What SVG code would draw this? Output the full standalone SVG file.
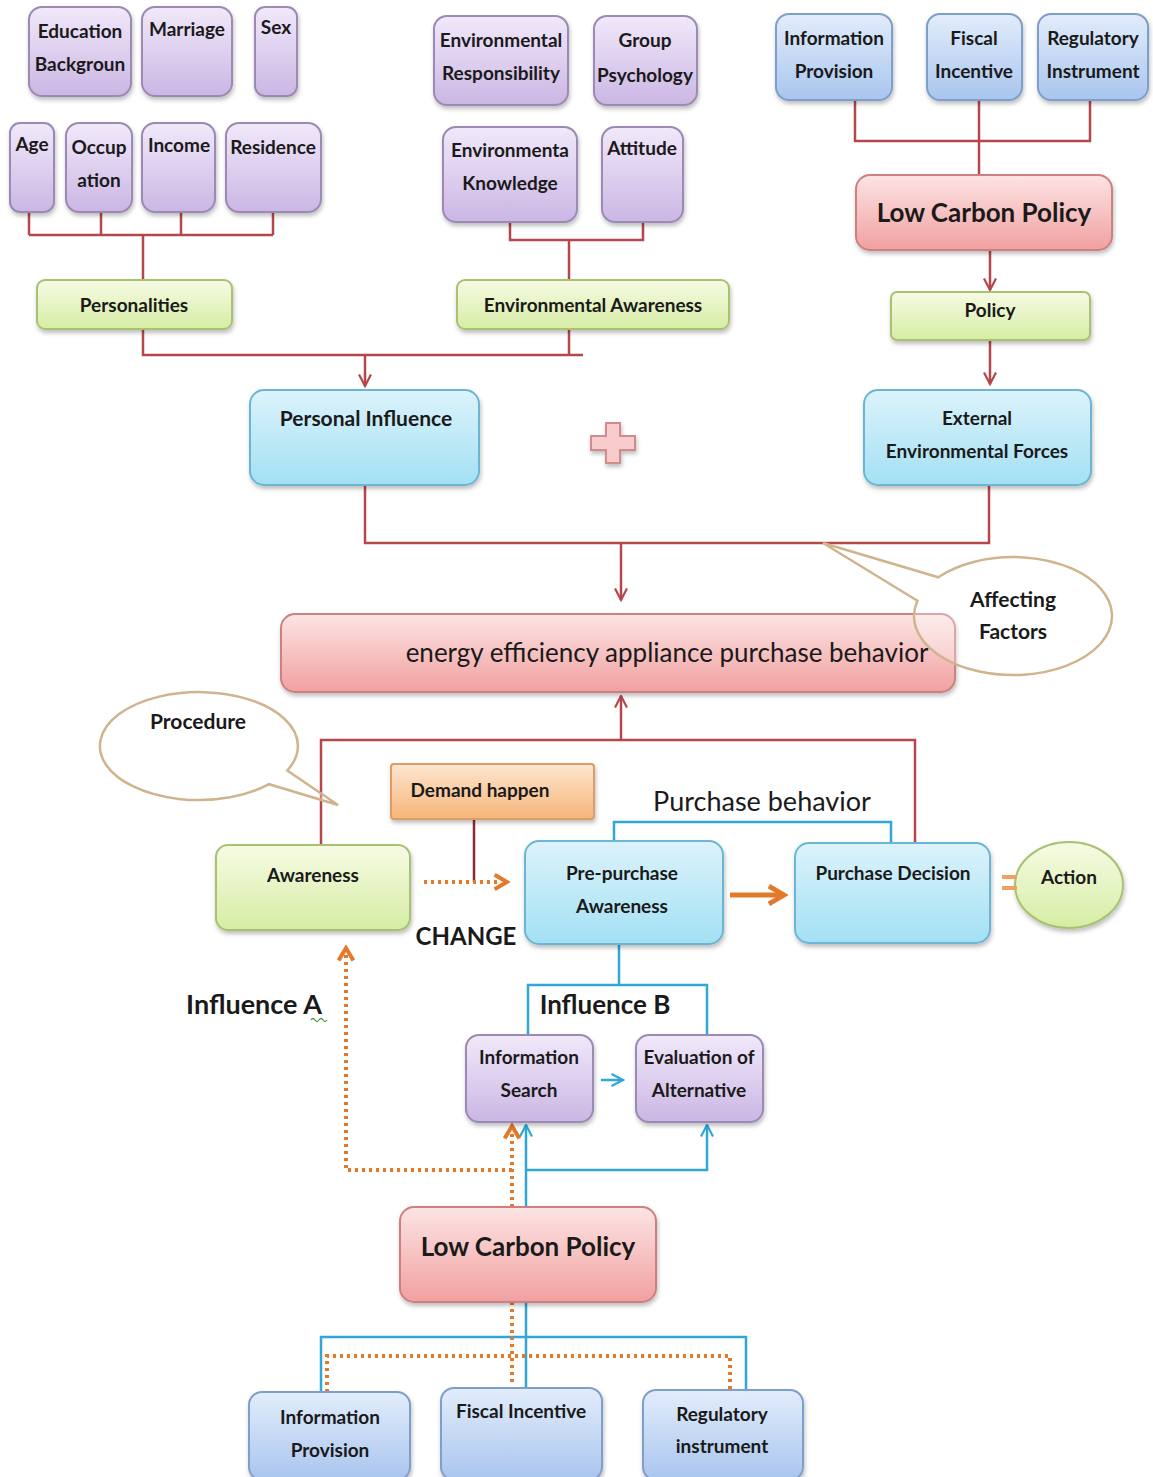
<svg xmlns="http://www.w3.org/2000/svg" width="1153" height="1477" viewBox="0 0 1153 1477">
<defs>
<linearGradient id="gPurple" x1="0" y1="0" x2="0" y2="1"><stop offset="0" stop-color="#f1e9fa"/><stop offset="1" stop-color="#cbb6e4"/></linearGradient>
<linearGradient id="gBlue" x1="0" y1="0" x2="0" y2="1"><stop offset="0" stop-color="#e2edfb"/><stop offset="1" stop-color="#a9c5ee"/></linearGradient>
<linearGradient id="gCyan" x1="0" y1="0" x2="0" y2="1"><stop offset="0" stop-color="#dcf3fb"/><stop offset="1" stop-color="#a3e0f4"/></linearGradient>
<linearGradient id="gGreen" x1="0" y1="0" x2="0" y2="1"><stop offset="0" stop-color="#f6fbe4"/><stop offset="1" stop-color="#d6eda4"/></linearGradient>
<linearGradient id="gPink" x1="0" y1="0" x2="0" y2="1"><stop offset="0" stop-color="#fde4e4"/><stop offset="1" stop-color="#f1a0a0"/></linearGradient>
<linearGradient id="gOrange" x1="0" y1="0" x2="0" y2="1"><stop offset="0" stop-color="#fde6cf"/><stop offset="1" stop-color="#f7b57a"/></linearGradient>
<filter id="sh" x="-10%" y="-10%" width="130%" height="140%"><feDropShadow dx="1" dy="3" stdDeviation="2" flood-color="#000" flood-opacity="0.25"/></filter>
<marker id="aRed" viewBox="0 0 14 14" refX="12.5" refY="7" markerWidth="14" markerHeight="14" markerUnits="userSpaceOnUse" orient="auto"><path d="M1,1 L12.5,7 L1,13" fill="none" stroke="#b5474b" stroke-width="2.2"/></marker>
<marker id="aBlue" viewBox="0 0 14 14" refX="12.5" refY="7" markerWidth="14" markerHeight="14" markerUnits="userSpaceOnUse" orient="auto"><path d="M1,1 L12.5,7 L1,13" fill="none" stroke="#2fa8d8" stroke-width="2.2"/></marker>
<marker id="aOrange" viewBox="0 0 16 16" refX="13" refY="8" markerWidth="18" markerHeight="18" markerUnits="userSpaceOnUse" orient="auto"><path d="M2,1.5 L13,8 L2,14.5" fill="none" stroke="#e27a2a" stroke-width="3.5"/></marker>
<marker id="aOrangeBig" viewBox="0 0 16 16" refX="13" refY="8" markerWidth="22" markerHeight="22" markerUnits="userSpaceOnUse" orient="auto"><path d="M2,1.5 L13,8 L2,14.5" fill="none" stroke="#e27a2a" stroke-width="3.5"/></marker>
</defs>
<style>
text{font-family:Lato,"Liberation Sans",sans-serif;font-weight:bold;fill:#1a1a1a;text-anchor:middle;}
.t18{font-size:19px;}
.t21{font-size:21px;}
.t26{font-size:26px;}
.reg{font-weight:normal;}
.box{stroke-width:2;filter:url(#sh);}
.pu{fill:url(#gPurple);stroke:#9a8ab4;}
.bl{fill:url(#gBlue);stroke:#7f9fcb;}
.cy{fill:url(#gCyan);stroke:#6cb6d3;}
.gr{fill:url(#gGreen);stroke:#a8c271;}
.pk{fill:url(#gPink);stroke:#cc8080;}
.or{fill:url(#gOrange);stroke:#dc9e66;}
.red{fill:none;stroke:#b5474b;stroke-width:2.5;}
.blu{fill:none;stroke:#2fa8d8;stroke-width:2.5;}
.dot{fill:none;stroke:#e27a2a;stroke-width:4;stroke-dasharray:3 4;}
.bub{fill:#ffffff;fill-opacity:0.3;stroke:#cfb48e;stroke-width:2.5;}
</style>

<g id="connectors">
<path class="red" d="M29,212 V235 M101,212 V235 M181,212 V235 M273,212 V235 M29,235 H273 M143,235 V280"/>
<path class="red" d="M143,329 V355 H583 M569,329 V355"/>
<path class="red" d="M365,355 V386" marker-end="url(#aRed)"/>
<path class="red" d="M510,222 V240 H643 V222 M569,240 V280"/>
<path class="red" d="M855,100 V141 H1090 V100 M979,100 V175"/>
<path class="red" d="M990,250 V290" marker-end="url(#aRed)"/>
<path class="red" d="M990,340 V384" marker-end="url(#aRed)"/>
<path class="red" d="M365,485 V543 H989 V485"/>
<path class="red" d="M621,543 V600" marker-end="url(#aRed)"/>
<path class="red" d="M321,845 V740 H915 V843"/>
<path class="red" d="M621,740 V696" marker-end="url(#aRed)"/>
<path d="M474,819 V882" fill="none" stroke="#8c2a36" stroke-width="2.5"/>
<path class="dot" d="M424,882 H500"/>
<path d="M497,882 H507" fill="none" stroke="#e27a2a" stroke-width="0.1" marker-end="url(#aOrange)"/>
<path d="M730,895 H784" fill="none" stroke="#e27a2a" stroke-width="5" marker-end="url(#aOrangeBig)"/>
<path class="blu" d="M614,841 V822 H891 V843"/>
<path class="blu" d="M619,944 V985 M528,1035 V985 H707 V1035"/>
<path class="blu" d="M601,1080 H623" marker-end="url(#aBlue)"/>
<path class="blu" d="M526,1207 V1125" marker-end="url(#aBlue)"/>
<path class="blu" d="M526,1170 H707 V1125" marker-end="url(#aBlue)"/>
<path class="dot" d="M512,1207 V1132"/>
<path d="M512,1135 V1126" fill="none" stroke="#e27a2a" stroke-width="0.1" marker-end="url(#aOrange)"/>
<path class="dot" d="M512,1170 H346 V955"/>
<path d="M346,958 V948" fill="none" stroke="#e27a2a" stroke-width="0.1" marker-end="url(#aOrange)"/>
<path class="blu" d="M526,1302 V1388 M321,1392 V1337 H746 V1390"/>
<path class="dot" d="M512,1302 V1386 M327,1392 V1356 H730 V1390"/>
</g>

<g id="n-education"><rect class="box pu" x="29" y="7" width="102" height="89" rx="13"/><text class="t18" x="80" y="38">Education</text><text class="t18" x="80" y="71">Backgroun</text></g>
<g id="n-marriage"><rect class="box pu" x="142" y="7" width="90" height="89" rx="13"/><text class="t18" x="187" y="36">Marriage</text></g>
<g id="n-sex"><rect class="box pu" x="255" y="7" width="42" height="89" rx="10"/><text class="t18" x="276" y="34">Sex</text></g>
<g id="n-age"><rect class="box pu" x="10" y="123" width="44" height="89" rx="10"/><text class="t18" x="32" y="151">Age</text></g>
<g id="n-occupation"><rect class="box pu" x="66" y="123" width="66" height="89" rx="13"/><text class="t18" x="99" y="154">Occup</text><text class="t18" x="99" y="187">ation</text></g>
<g id="n-income"><rect class="box pu" x="142" y="123" width="73" height="89" rx="13"/><text class="t18" x="179" y="152">Income</text></g>
<g id="n-residence"><rect class="box pu" x="226" y="123" width="95" height="89" rx="13"/><text class="t18" x="273" y="154">Residence</text></g>

<g id="n-envresp"><rect class="box pu" x="434" y="16" width="134" height="89" rx="13"/><text class="t18" x="501" y="47">Environmental</text><text class="t18" x="501" y="80">Responsibility</text></g>
<g id="n-group"><rect class="box pu" x="594" y="16" width="103" height="89" rx="13"/><text class="t18" x="645" y="47">Group</text><text class="t18" x="645" y="82">Psychology</text></g>
<g id="n-envknow"><rect class="box pu" x="443" y="127" width="134" height="95" rx="13"/><text class="t18" x="510" y="157">Environmenta</text><text class="t18" x="510" y="190">Knowledge</text></g>
<g id="n-attitude"><rect class="box pu" x="602" y="127" width="81" height="95" rx="13"/><text class="t18" x="642" y="155">Attitude</text></g>

<g id="n-infoprov-top"><rect class="box bl" x="776" y="14" width="116" height="86" rx="13"/><text class="t18" x="834" y="45">Information</text><text class="t18" x="834" y="78">Provision</text></g>
<g id="n-fiscal-top"><rect class="box bl" x="927" y="14" width="95" height="86" rx="13"/><text class="t18" x="974" y="45">Fiscal</text><text class="t18" x="974" y="78">Incentive</text></g>
<g id="n-reg-top"><rect class="box bl" x="1038" y="14" width="110" height="86" rx="13"/><text class="t18" x="1093" y="45">Regulatory</text><text class="t18" x="1093" y="78">Instrument</text></g>
<g id="n-lcp-top"><rect class="box pk" x="856" y="175" width="256" height="75" rx="14"/><text class="t26" x="984" y="222">Low Carbon Policy</text></g>
<g id="n-policy"><rect class="box gr" x="891" y="292" width="199" height="48" rx="6"/><text class="t18" x="990" y="317">Policy</text></g>

<g id="n-personalities"><rect class="box gr" x="37" y="280" width="195" height="49" rx="8"/><text class="t18" x="134" y="312">Personalities</text></g>
<g id="n-envaware"><rect class="box gr" x="457" y="280" width="272" height="49" rx="8"/><text class="t18" x="593" y="312">Environmental Awareness</text></g>

<g id="n-personal"><rect class="box cy" x="250" y="390" width="229" height="95" rx="14"/><text class="t21" x="366" y="426">Personal Influence</text></g>
<g id="n-plus"><path d="M606,423 H620 V436 H635 V450 H620 V463 H606 V450 H591 V436 H606 Z" fill="#f8cccc" stroke="#d08b8b" stroke-width="2" filter="url(#sh)"/></g>
<g id="n-external"><rect class="box cy" x="864" y="390" width="227" height="95" rx="14"/><text class="t18" x="977" y="425">External</text><text class="t18" x="977" y="458">Environmental Forces</text></g>

<g id="n-main"><rect class="box pk" x="281" y="614" width="674" height="78" rx="14"/><text class="t26 reg" x="667" y="662">energy efficiency appliance purchase behavior</text></g>

<g id="n-demand"><rect class="box or" x="391" y="764" width="203" height="55" rx="3"/><text class="t18" x="480" y="797">Demand happen</text></g>
<g id="n-awareness"><rect class="box gr" x="216" y="845" width="194" height="85" rx="12"/><text class="t18" x="313" y="882">Awareness</text></g>
<g id="n-change"><text x="466" y="945" style="font-size:24px">CHANGE</text></g>
<g id="n-prepurchase"><rect class="box cy" x="525" y="841" width="198" height="103" rx="14"/><text class="t18" x="622" y="880">Pre-purchase</text><text class="t18" x="622" y="913">Awareness</text></g>
<g id="n-decision"><rect class="box cy" x="795" y="843" width="195" height="100" rx="14"/><text class="t18" x="893" y="880">Purchase Decision</text></g>
<g id="n-action"><ellipse class="box gr" cx="1069" cy="885" rx="54" ry="43"/><text class="t18" x="1069" y="884">Action</text></g>
<g id="n-equals"><path d="M1002,877 H1017 M1002,888 H1017" fill="none" stroke="#f0a060" stroke-width="4"/></g>
<g id="n-purchasebehavior"><text class="reg" x="762" y="811" style="font-size:27px">Purchase behavior</text></g>

<g id="n-influenceA"><text x="254" y="1014" style="font-size:27px">Influence A</text><path d="M311,1020 q2,-3 4,0 t4,0 t4,0 t4,0" fill="none" stroke="#4a9a4a" stroke-width="1.3"/></g>
<g id="n-influenceB"><text class="t26" x="605" y="1014">Influence B</text></g>
<g id="n-search"><rect class="box pu" x="466" y="1035" width="127" height="87" rx="13"/><text class="t18" x="529" y="1064">Information</text><text class="t18" x="529" y="1097">Search</text></g>
<g id="n-eval"><rect class="box pu" x="636" y="1035" width="127" height="87" rx="13"/><text class="t18" x="699" y="1064">Evaluation of</text><text class="t18" x="699" y="1097">Alternative</text></g>

<g id="n-lcp-bottom"><rect class="box pk" x="400" y="1207" width="256" height="95" rx="14"/><text class="t26" x="528" y="1256">Low Carbon Policy</text></g>
<g id="n-infoprov-bottom"><rect class="box bl" x="249" y="1392" width="161" height="88" rx="13"/><text class="t18" x="330" y="1424">Information</text><text class="t18" x="330" y="1457">Provision</text></g>
<g id="n-fiscal-bottom"><rect class="box bl" x="441" y="1388" width="161" height="92" rx="13"/><text class="t18" x="521" y="1418">Fiscal Incentive</text></g>
<g id="n-reg-bottom"><rect class="box bl" x="643" y="1390" width="160" height="90" rx="13"/><text class="t18" x="722" y="1421">Regulatory</text><text class="t18" x="722" y="1453">instrument</text></g>

<g id="n-affecting"><path class="bub" d="M917.4,600.7 L823,543 L938.3,577.3 A99 59 0 1 1 917.4,600.7 Z"/><text class="t21" x="1013" y="607">Affecting</text><text class="t21" x="1013" y="639">Factors</text></g>
<g id="n-procedure"><path class="bub" d="M287.2,770.5 L338,805 L269,784.2 A99 54 0 1 1 287.2,770.5 Z"/><text class="t21" x="198" y="729">Procedure</text></g>
</svg>
